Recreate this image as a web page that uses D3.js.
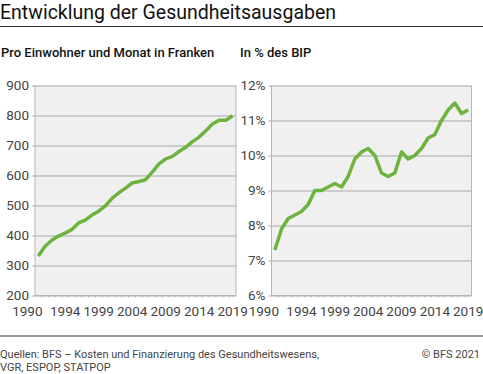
<!DOCTYPE html>
<html>
<head>
<meta charset="utf-8">
<script src="https://cdn.jsdelivr.net/npm/d3@7"></script>
<style>
  body { margin: 0; background: #fff; }
  svg text { font-family: Roboto, "Noto Sans", sans-serif; }
</style>
</head>
<body>
<svg id="chart" width="483" height="374"></svg>
<script>
const years = [1990, 1991, 1992, 1993, 1994, 1995, 1996, 1997, 1998, 1999,
  2000, 2001, 2002, 2003, 2004, 2005, 2006, 2007, 2008, 2009,
  2010, 2011, 2012, 2013, 2014, 2015, 2016, 2017, 2018, 2019];

// Franken pro Einwohner und Monat
const chfPerMonth = [332, 364, 384, 398, 408, 420, 442, 451, 468, 481,
  499, 524, 542, 558, 575, 580, 586, 611, 639, 655,
  664, 680, 694, 713, 728, 749, 772, 784, 784, 799];

// in % des BIP
const pctGdp = [7.3, 7.9, 8.2, 8.3, 8.4, 8.6, 9.0, 9.0, 9.1, 9.2,
  9.1, 9.4, 9.9, 10.1, 10.2, 10.0, 9.5, 9.4, 9.5, 10.1,
  9.9, 10.0, 10.2, 10.5, 10.6, 11.0, 11.3, 11.5, 11.2, 11.3];

const yearTicks = [1990, 1994, 1999, 2004, 2009, 2014, 2019];
const chfTicks = [200, 300, 400, 500, 600, 700, 800, 900];
const pctTicks = [6, 7, 8, 9, 10, 11, 12];

const svg = d3.select('#chart');
const plotTop = 85.5, plotBottom = 295.5;
const green = '#6fb33f';

// header
svg.append('text')
  .attr('x', 0).attr('y', 19)
  .attr('font-size', 19.5).attr('fill', '#111')
  .text('Entwicklung der Gesundheitsausgaben');
svg.append('line')
  .attr('x1', 0).attr('x2', 483).attr('y1', 26.5).attr('y2', 26.5)
  .attr('stroke', '#333').attr('stroke-width', 1);

function drawPanel(opts) {
  const g = svg.append('g');

  const x = d3.scaleBand().domain(years).range([opts.left, opts.right]).padding(0);
  const y = d3.scaleLinear().domain(d3.extent(opts.ticks)).range([plotBottom, plotTop]);

  // subtitle
  g.append('text')
    .attr('x', opts.titleX).attr('y', 57)
    .attr('font-size', 13).attr('font-weight', 500).attr('fill', '#111')
    .text(opts.title);

  g.append('rect')
    .attr('x', opts.left).attr('y', plotTop)
    .attr('width', opts.right - opts.left).attr('height', plotBottom - plotTop)
    .attr('fill', '#f0f0f0');

  // y grid + ticks
  const yAxis = d3.axisLeft(y)
    .tickValues(opts.ticks)
    .tickSize(-(opts.right - opts.left))
    .tickPadding(6)
    .tickFormat(opts.fmt);
  const ya = g.append('g').attr('transform', `translate(${opts.left},0)`).call(yAxis);
  ya.select('.domain').remove();
  ya.selectAll('.tick line').attr('stroke', '#a9a9a9').attr('x2', -3)
    .attr('x1', opts.right - opts.left);
  ya.selectAll('.tick text').attr('font-size', 13.5).attr('fill', '#444')
    .attr('font-family', 'Roboto, sans-serif');

  // side borders
  [opts.left, opts.right].forEach(xx => {
    g.append('line')
      .attr('x1', xx).attr('x2', xx).attr('y1', plotTop).attr('y2', plotBottom)
      .attr('stroke', '#b5b5b5');
  });

  // bottom axis with small year ticks
  g.append('line')
    .attr('x1', opts.left).attr('x2', opts.right).attr('y1', plotBottom).attr('y2', plotBottom)
    .attr('stroke', '#b5b5b5');
  g.selectAll('.yt')
    .data(years.slice(1))
    .join('line')
    .attr('x1', d => x(d)).attr('x2', d => x(d))
    .attr('y1', plotBottom).attr('y2', plotBottom + 2)
    .attr('stroke', '#b5b5b5');

  g.selectAll('.xl')
    .data(yearTicks)
    .join('text')
    .attr('x', d => x(d) + x.bandwidth() / 2)
    .attr('dx', d => d === 1990 ? -11 : 0)
    .attr('y', 316)
    .attr('text-anchor', 'middle')
    .attr('font-size', 13.5).attr('fill', '#444')
    .text(d => d);

  const line = d3.line()
    .x((d, i) => x(years[i]) + x.bandwidth() / 2)
    .y(d => y(d));
  g.append('path')
    .datum(opts.values)
    .attr('d', line)
    .attr('fill', 'none')
    .attr('stroke', green)
    .attr('stroke-width', 3.5)
    .attr('stroke-linejoin', 'round');
}

drawPanel({
  left: 35, right: 236, titleX: 1,
  title: 'Pro Einwohner und Monat in Franken',
  ticks: chfTicks, values: chfPerMonth,
  fmt: d => d
});

drawPanel({
  left: 271.5, right: 471.5, titleX: 240,
  title: 'In % des BIP',
  ticks: pctTicks, values: pctGdp,
  fmt: d => d + '%'
});

// footer
svg.append('line')
  .attr('x1', 0).attr('x2', 483).attr('y1', 336).attr('y2', 336)
  .attr('stroke', '#333').attr('stroke-width', 1);
const foot = svg.append('text').attr('font-size', 11).attr('fill', '#444');
foot.append('tspan').attr('x', 0).attr('y', 358)
  .text('Quellen: BFS – Kosten und Finanzierung des Gesundheitswesens,');
foot.append('tspan').attr('x', 0).attr('y', 371)
  .text('VGR, ESPOP, STATPOP');
svg.append('text')
  .attr('x', 480).attr('y', 358).attr('text-anchor', 'end')
  .attr('font-size', 11).attr('fill', '#444')
  .text('© BFS 2021');
</script>
</body>
</html>
